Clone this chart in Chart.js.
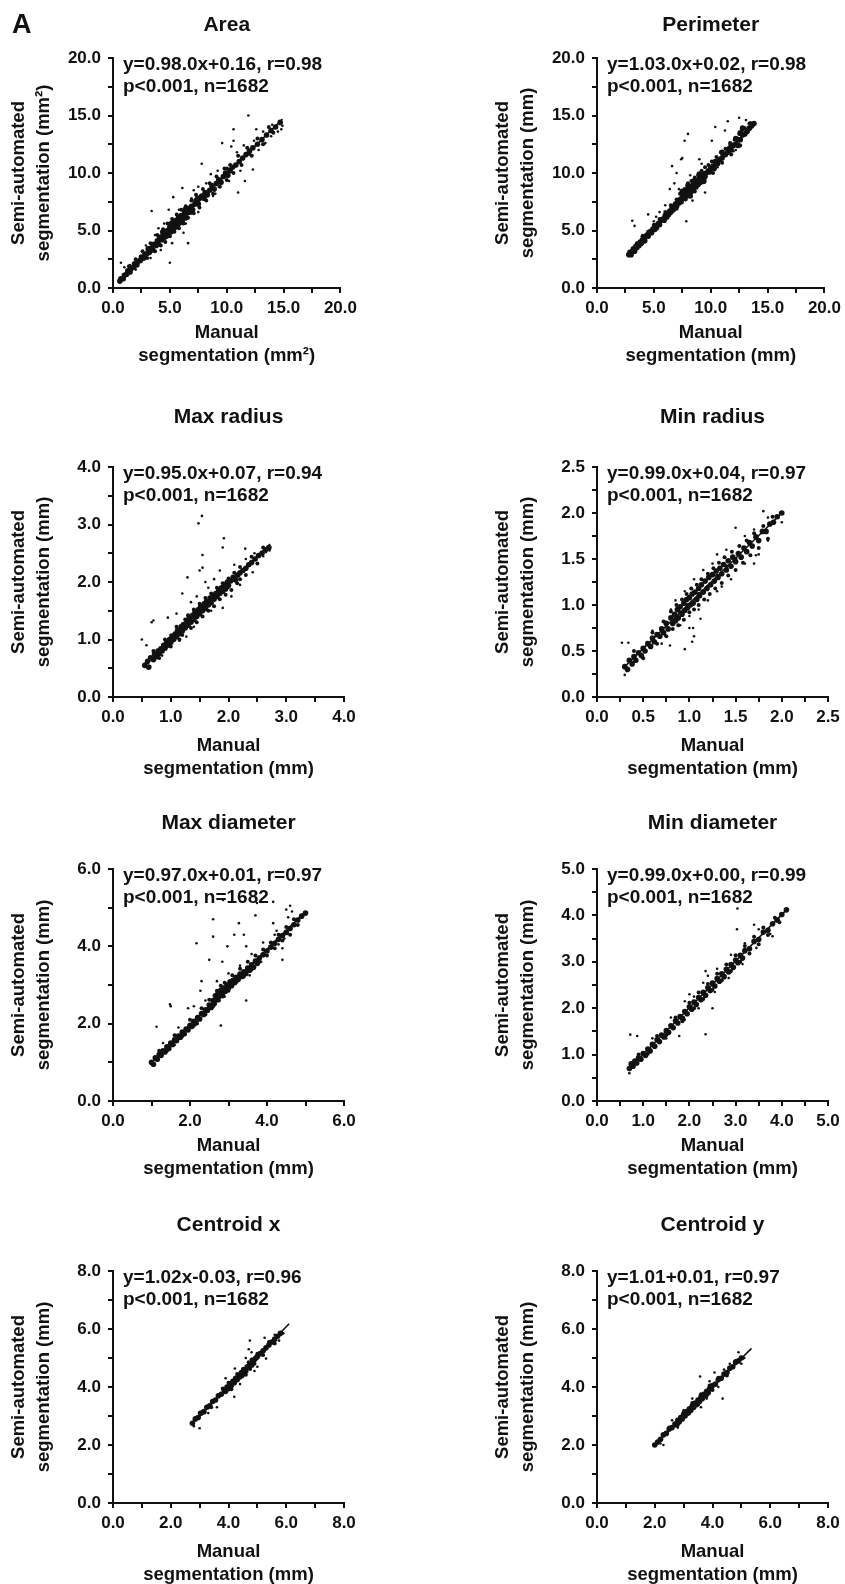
<!DOCTYPE html>
<html>
<head>
<meta charset="utf-8">
<script src="https://cdn.jsdelivr.net/npm/chart.js@4.4.1/dist/chart.umd.min.js"></script>
<style>
  body { margin: 0; background: #fff; width: 845px; height: 1584px; position: relative; overflow: hidden; }
  canvas { position: absolute; }
</style>
</head>
<body>
<script>
// ---- text ----
const panelTitles = ['Area', 'Perimeter', 'Max radius', 'Min radius', 'Max diameter', 'Min diameter', 'Centroid x', 'Centroid y'];
const unitLabels = ['mm²', 'mm', 'mm', 'mm', 'mm', 'mm', 'mm', 'mm'];
const fitTexts = [
  'y=0.98.0x+0.16, r=0.98', 'y=1.03.0x+0.02, r=0.98',
  'y=0.95.0x+0.07, r=0.94', 'y=0.99.0x+0.04, r=0.97',
  'y=0.97.0x+0.01, r=0.97', 'y=0.99.0x+0.00, r=0.99',
  'y=1.02x-0.03, r=0.96', 'y=1.01+0.01, r=0.97'
];
const statText = 'p<0.001, n=1682';

// ---- axes (same range on x and y) ----
const axisMax = [20, 20, 4, 2.5, 6, 5, 8, 8];
const minorStep = [2.5, 2.5, 0.5, 0.25, 1, 0.5, 1, 1];
const labelStep = [5, 5, 1, 0.5, 2, 1, 2, 2];

// ---- data: [manual, semi-automated] ----
// fit line ends, dense core, spread around the core, loose outliers
const areaFit = [[0.6, 0.7], [14.9, 14.7]];
const areaBand = [[0.6,0.6],[0.7,0.8],[0.9,0.8],[1.0,1.1],[1.2,1.2],[1.3,1.5],[1.5,1.4],[1.6,1.7],[1.8,1.8],[1.9,2.1],[2.1,2.0],[2.2,2.3],[2.4,2.4],[2.5,2.7],[2.7,2.6],[2.8,2.9],[3.0,3.0],[3.1,3.4],[3.2,3.1],[3.4,3.5],[3.5,3.3],[3.6,3.8],[3.8,3.7],[3.9,4.1],[4.0,3.8],[4.1,4.4],[4.3,4.2],[4.4,4.7],[4.5,4.4],[4.6,4.9],[4.7,4.5],[4.8,5.0],[4.9,4.7],[5.0,5.3],[5.1,4.9],[5.2,5.5],[5.3,5.1],[5.4,5.7],[5.5,5.3],[5.6,5.9],[5.7,5.5],[5.8,6.1],[5.9,5.7],[6.0,6.3],[6.1,5.9],[6.2,6.2],[6.3,6.6],[6.4,6.1],[6.5,6.5],[6.6,6.9],[6.8,6.6],[6.9,7.1],[7.0,6.8],[7.2,7.3],[7.3,7.6],[7.5,7.3],[7.6,7.8],[7.8,8.0],[8.0,7.8],[8.1,8.3],[8.3,8.1],[8.5,8.5],[8.7,8.9],[8.9,8.6],[9.1,9.1],[9.3,9.4],[9.5,9.2],[9.7,9.7],[9.9,10.0],[10.1,9.8],[10.3,10.2],[10.5,10.5],[10.8,10.7],[11.1,11.0],[11.4,11.3],[11.7,11.6],[12.0,11.9],[12.3,12.2],[12.7,12.5],[13.1,12.9],[13.5,13.3],[13.9,13.7],[14.3,14.0],[14.7,14.4]];
const areaSpread = [[1.4,1.9],[2.0,2.5],[2.6,3.2],[3.0,2.6],[3.3,3.9],[3.7,3.2],[3.9,4.6],[4.2,3.7],[4.4,5.1],[4.6,4.0],[4.8,5.6],[5.0,4.5],[5.2,6.0],[5.4,4.9],[5.6,6.4],[5.8,5.2],[6.0,6.8],[6.2,5.6],[6.4,7.1],[6.6,6.1],[6.9,7.6],[7.1,6.5],[7.3,8.1],[7.6,7.0],[7.9,8.6],[8.2,7.6],[8.5,9.1],[8.8,8.2],[9.1,9.7],[9.4,8.8],[9.8,10.4],[10.0,9.4],[10.3,10.7],[10.6,10.0],[11.0,11.5],[11.3,10.7],[11.8,12.2],[12.2,11.5],[12.7,13.0],[13.2,12.5],[13.7,14.0],[14.1,13.5],[4.3,4.9],[5.1,5.7],[5.7,6.2],[6.3,6.9],[7.4,7.9],[10.0,10.4],[10.2,10.3]];
const areaLoose = [[0.7,2.2],[1.0,1.8],[1.5,2.0],[2.0,1.6],[3.3,2.6],[3.4,6.7],[4.0,5.2],[4.2,3.3],[4.9,6.8],[5.0,2.2],[5.2,3.9],[5.3,7.9],[6.1,8.7],[6.6,3.9],[6.2,4.8],[7.1,8.5],[7.5,8.8],[7.5,6.6],[7.8,10.8],[8.6,9.9],[9.0,8.2],[9.3,8.8],[9.6,12.6],[10.4,12.3],[10.6,12.8],[10.6,13.8],[11.0,8.3],[11.6,9.3],[11.2,10.2],[11.9,15.0],[12.0,11.6],[12.1,12.0],[12.3,10.3],[12.4,12.8],[12.6,13.8],[13.2,13.6],[13.4,12.6],[13.9,13.2],[14.0,14.2],[14.8,13.8],[14.9,14.1],[14.5,13.6],[12.8,12.0],[11.5,12.4],[10.9,11.8],[9.2,10.2],[8.2,9.1],[6.9,7.8],[5.8,6.8],[4.5,5.6],[3.7,4.6],[2.9,3.7],[6.4,5.6],[8.8,8.0],[10.2,9.3]];

const perimFit = [[2.8, 2.9], [13.8, 14.3]];
const perimBand = [[2.8,2.9],[2.9,3.1],[3.0,2.9],[3.1,3.2],[3.2,3.4],[3.3,3.2],[3.4,3.6],[3.5,3.5],[3.6,3.8],[3.7,3.7],[3.8,4.0],[3.9,3.9],[4.0,4.2],[4.1,4.3],[4.2,4.1],[4.3,4.5],[4.4,4.6],[4.5,4.5],[4.6,4.8],[4.7,4.9],[4.8,4.8],[4.9,5.1],[5.0,5.2],[5.1,5.1],[5.2,5.4],[5.4,5.6],[5.5,5.5],[5.6,5.9],[5.8,6.0],[5.9,5.9],[6.0,6.3],[6.1,6.2],[6.2,6.5],[6.3,6.4],[6.4,6.7],[6.5,6.6],[6.6,7.0],[6.7,6.8],[6.8,7.1],[6.9,7.3],[7.0,7.1],[7.1,7.5],[7.2,7.4],[7.3,7.7],[7.4,7.5],[7.5,7.9],[7.6,8.1],[7.7,7.8],[7.8,8.3],[7.9,8.0],[8.0,8.5],[8.1,8.2],[8.2,8.7],[8.3,8.4],[8.4,8.9],[8.5,8.6],[8.6,9.1],[8.7,8.8],[8.8,9.3],[8.9,9.0],[9.0,9.5],[9.1,9.2],[9.2,9.7],[9.3,9.5],[9.4,9.9],[9.5,9.7],[9.6,10.0],[9.8,10.2],[9.9,10.1],[10.0,10.4],[10.2,10.6],[10.3,10.4],[10.5,10.9],[10.6,10.8],[10.8,11.2],[11.0,11.3],[11.1,11.6],[11.3,11.6],[11.5,11.8],[11.6,12.1],[11.8,12.0],[12.0,12.4],[12.2,12.5],[12.4,12.9],[12.6,12.9],[12.8,13.3],[13.0,13.4],[13.2,13.6],[13.4,13.9],[13.6,14.1],[13.8,14.3],[7.5,8.4],[8.0,8.9],[8.5,9.3],[9.0,9.9],[8.2,8.0],[9.4,9.3],[10.4,11.0],[11.0,11.8],[11.8,12.4],[12.2,13.0],[12.6,13.5],[12.8,13.9],[12.4,12.4]];
const perimSpread = [[3.5,3.9],[4.0,4.5],[4.5,4.9],[5.0,5.5],[5.5,6.0],[6.0,6.6],[6.5,7.2],[7.0,7.7],[7.3,8.2],[7.7,8.6],[8.0,9.1],[8.3,9.3],[8.6,9.6],[8.9,9.8],[9.2,10.2],[9.5,10.5],[9.8,10.7],[10.1,11.0],[10.5,11.4],[10.9,11.8],[11.3,12.1],[11.7,12.6],[12.1,12.9],[12.5,13.4],[13.0,13.9],[13.4,14.3],[5.3,5.2],[6.2,6.1],[7.0,6.9],[7.8,7.7],[8.6,8.4],[9.4,9.2],[10.2,10.0],[11.0,10.9],[11.8,11.6],[12.6,12.4]];
const perimLoose = [[3.1,5.85],[3.3,5.4],[4.5,6.4],[4.0,4.6],[5.0,5.8],[5.5,6.6],[6.4,8.6],[6.6,10.6],[6.8,9.1],[7.0,10.0],[7.4,11.2],[7.5,11.3],[7.7,12.8],[8.0,13.4],[7.85,5.8],[8.4,7.6],[9.0,11.2],[9.5,8.3],[9.2,10.8],[10.1,12.8],[10.4,14.0],[11.25,13.7],[11.5,14.5],[12.5,14.8],[11.6,11.8],[12.0,11.9],[12.2,12.0],[13.1,14.6],[13.5,14.4],[9.8,10.0],[10.6,10.5],[8.8,8.7],[6.0,7.2],[7.2,8.6],[8.2,9.8],[5.2,6.2]];

const maxRadFit = [[0.55, 0.58], [2.72, 2.66]];
const maxRadBand = [[0.55,0.55],[0.6,0.62],[0.62,0.52],[0.65,0.68],[0.7,0.65],[0.72,0.75],[0.75,0.7],[0.78,0.8],[0.8,0.76],[0.83,0.84],[0.85,0.8],[0.88,0.9],[0.9,0.85],[0.93,0.95],[0.95,0.9],[0.98,1.0],[1.0,0.95],[1.02,1.06],[1.05,1.0],[1.08,1.1],[1.1,1.05],[1.12,1.16],[1.15,1.1],[1.18,1.22],[1.2,1.15],[1.22,1.26],[1.25,1.2],[1.28,1.32],[1.3,1.25],[1.32,1.38],[1.35,1.3],[1.38,1.42],[1.4,1.35],[1.42,1.48],[1.45,1.4],[1.48,1.52],[1.5,1.45],[1.52,1.58],[1.55,1.5],[1.58,1.62],[1.6,1.54],[1.62,1.66],[1.65,1.6],[1.68,1.72],[1.7,1.64],[1.73,1.76],[1.75,1.7],[1.78,1.8],[1.8,1.75],[1.83,1.86],[1.85,1.8],[1.88,1.9],[1.9,1.84],[1.93,1.95],[1.95,1.88],[1.98,2.0],[2.0,1.94],[2.04,2.02],[2.08,2.08],[2.12,2.04],[2.16,2.12],[2.2,2.16],[2.25,2.2],[2.3,2.24],[2.35,2.3],[2.4,2.34],[2.46,2.4],[2.52,2.46],[2.58,2.5],[2.64,2.56],[2.7,2.6]];
const maxRadSpread = [[0.7,0.8],[0.8,0.68],[0.9,1.0],[1.0,0.88],[1.1,1.22],[1.2,1.08],[1.3,1.42],[1.35,1.2],[1.4,1.52],[1.45,1.3],[1.5,1.62],[1.55,1.4],[1.6,1.72],[1.65,1.5],[1.7,1.8],[1.75,1.58],[1.8,1.9],[1.85,1.7],[1.9,1.98],[1.95,1.78],[2.0,2.06],[2.05,1.86],[2.1,2.16],[2.15,1.98],[2.2,2.26],[2.3,2.12],[2.4,2.44],[2.5,2.32],[2.6,2.6],[2.2,2.05],[1.25,1.35],[1.15,1.0]];
const maxRadLoose = [[1.54,3.15],[1.48,3.02],[1.92,2.76],[1.9,2.6],[1.55,2.47],[1.55,2.25],[1.5,2.2],[1.29,2.08],[1.6,2.0],[1.2,1.8],[0.67,1.3],[0.7,1.33],[0.5,1.0],[1.27,1.05],[2.29,2.58],[2.3,2.4],[2.42,2.17],[1.9,1.55],[2.71,2.55],[2.5,2.45],[2.0,1.9],[0.95,1.38],[0.58,0.9],[1.1,1.45],[1.35,1.65],[1.45,1.75],[1.65,1.9],[1.75,2.05],[1.85,2.2],[2.1,2.3],[2.2,1.95],[2.05,1.75],[1.7,1.5],[1.4,1.22],[1.15,0.98],[0.85,0.72],[2.45,2.5],[2.6,2.45],[2.65,2.52],[0.6,0.5]];

const minRadFit = [[0.3, 0.33], [2.0, 2.0]];
const minRadBand = [[0.3,0.33],[0.33,0.3],[0.35,0.4],[0.38,0.36],[0.4,0.44],[0.42,0.4],[0.45,0.48],[0.48,0.45],[0.5,0.53],[0.52,0.5],[0.55,0.58],[0.58,0.55],[0.6,0.64],[0.62,0.6],[0.65,0.68],[0.68,0.66],[0.7,0.74],[0.72,0.7],[0.75,0.8],[0.77,0.74],[0.8,0.86],[0.82,0.8],[0.84,0.9],[0.85,0.83],[0.87,0.95],[0.88,0.86],[0.9,0.98],[0.92,0.9],[0.94,1.02],[0.95,0.94],[0.97,1.06],[0.98,0.97],[1.0,1.08],[1.01,1.0],[1.03,1.12],[1.04,1.02],[1.06,1.14],[1.08,1.06],[1.1,1.18],[1.11,1.1],[1.13,1.22],[1.15,1.14],[1.17,1.26],[1.19,1.18],[1.21,1.3],[1.23,1.22],[1.25,1.33],[1.27,1.26],[1.29,1.37],[1.31,1.3],[1.33,1.4],[1.35,1.34],[1.37,1.44],[1.4,1.38],[1.42,1.48],[1.45,1.42],[1.47,1.52],[1.5,1.47],[1.53,1.56],[1.56,1.52],[1.59,1.62],[1.62,1.58],[1.65,1.68],[1.68,1.64],[1.72,1.74],[1.75,1.7],[1.79,1.8],[1.83,1.8],[1.87,1.88],[1.91,1.9],[1.95,1.96],[2.0,2.0]];
const minRadSpread = [[0.4,0.5],[0.5,0.42],[0.6,0.7],[0.65,0.58],[0.72,0.82],[0.75,0.66],[0.8,0.93],[0.82,0.74],[0.86,1.0],[0.88,0.78],[0.92,1.06],[0.94,0.84],[0.97,1.12],[1.0,0.92],[1.02,1.18],[1.05,0.95],[1.08,1.22],[1.1,1.0],[1.13,1.28],[1.16,1.06],[1.2,1.34],[1.22,1.12],[1.26,1.4],[1.28,1.18],[1.32,1.46],[1.35,1.24],[1.38,1.52],[1.42,1.32],[1.46,1.58],[1.5,1.38],[1.54,1.64],[1.58,1.46],[1.62,1.7],[1.66,1.54],[1.7,1.78],[1.75,1.62],[1.8,1.86],[1.85,1.72],[1.9,1.96],[0.98,1.0],[1.1,1.12],[1.2,1.2],[1.3,1.32],[1.4,1.42],[1.5,1.5],[0.9,0.92]];
const minRadLoose = [[0.27,0.59],[0.34,0.59],[0.3,0.24],[0.74,0.67],[0.79,0.56],[0.95,0.52],[1.0,0.75],[1.04,0.75],[1.03,0.6],[1.05,0.66],[1.5,1.84],[1.7,1.45],[1.72,1.54],[1.91,1.9],[2.0,1.9],[1.98,2.0],[1.8,2.02],[1.85,1.95],[0.85,1.05],[0.95,1.15],[1.05,1.28],[1.15,1.38],[1.25,1.45],[1.3,1.55],[1.4,1.6],[1.6,1.75],[1.7,1.82],[0.9,0.78],[1.0,0.88],[1.1,0.95],[1.2,1.05],[1.3,1.15],[1.45,1.28],[1.6,1.45],[1.75,1.55],[1.85,1.7],[0.6,0.72],[0.7,0.58],[1.12,0.85],[1.35,1.2],[0.8,0.95]];

const maxDiaFit = [[1.0, 1.0], [5.0, 4.9]];
const maxDiaBand = [[1.0,1.0],[1.05,0.95],[1.1,1.12],[1.15,1.08],[1.2,1.2],[1.25,1.18],[1.3,1.3],[1.35,1.27],[1.4,1.4],[1.45,1.36],[1.5,1.5],[1.55,1.46],[1.6,1.58],[1.65,1.56],[1.7,1.68],[1.75,1.65],[1.8,1.78],[1.85,1.74],[1.9,1.86],[1.95,1.84],[2.0,1.96],[2.05,1.93],[2.1,2.06],[2.15,2.02],[2.2,2.16],[2.25,2.12],[2.3,2.26],[2.35,2.24],[2.4,2.36],[2.45,2.34],[2.5,2.48],[2.55,2.42],[2.6,2.6],[2.63,2.52],[2.66,2.72],[2.7,2.62],[2.73,2.8],[2.76,2.7],[2.8,2.86],[2.84,2.76],[2.88,2.92],[2.92,2.84],[2.96,3.0],[3.0,2.92],[3.04,3.08],[3.08,2.98],[3.12,3.12],[3.16,3.06],[3.2,3.2],[3.25,3.14],[3.3,3.28],[3.35,3.22],[3.4,3.34],[3.45,3.3],[3.5,3.44],[3.55,3.38],[3.6,3.52],[3.65,3.46],[3.7,3.62],[3.75,3.56],[3.8,3.7],[3.9,3.78],[4.0,3.88],[4.1,3.98],[4.2,4.08],[4.3,4.18],[4.4,4.28],[4.5,4.36],[4.6,4.46],[4.7,4.56],[4.8,4.68],[4.9,4.78],[5.0,4.86]];
const maxDiaSpread = [[1.2,1.3],[1.4,1.3],[1.6,1.7],[1.8,1.68],[2.0,2.1],[2.1,1.95],[2.3,2.4],[2.4,2.24],[2.5,2.62],[2.6,2.45],[2.7,2.85],[2.75,2.6],[2.8,2.98],[2.85,2.7],[2.9,3.06],[3.0,2.85],[3.1,3.25],[3.2,3.08],[3.3,3.42],[3.4,3.22],[3.5,3.6],[3.6,3.4],[3.7,3.76],[3.8,3.6],[3.9,3.92],[4.0,3.76],[4.1,4.1],[4.2,3.95],[4.3,4.3],[4.4,4.15],[4.5,4.5],[4.6,4.3],[4.7,4.7],[4.8,4.55]];
const maxDiaLoose = [[1.13,1.92],[1.48,2.5],[1.5,2.45],[2.17,4.08],[2.6,4.7],[2.6,4.25],[2.5,3.65],[2.84,3.6],[2.97,4.0],[3.15,4.3],[3.4,4.3],[3.27,4.6],[3.7,4.8],[3.74,5.12],[4.16,5.15],[2.86,5.2],[3.46,4.0],[4.16,4.6],[4.5,4.95],[4.6,5.05],[4.4,3.95],[4.4,3.65],[3.46,2.6],[2.8,1.95],[2.3,3.1],[2.27,2.85],[2.1,2.45],[1.95,2.4],[1.3,1.5],[1.7,1.9],[2.4,2.6],[2.7,3.1],[3.0,3.3],[3.3,3.5],[3.6,3.8],[3.9,4.1],[4.2,4.3],[4.3,4.05],[4.45,4.2],[4.55,4.75],[4.65,4.9],[4.25,4.4],[3.85,3.6],[3.55,3.25],[2.9,2.7],[2.2,2.0],[1.6,1.45]];

const minDiaFit = [[0.7, 0.7], [4.1, 4.12]];
const minDiaBand = [[0.7,0.7],[0.74,0.8],[0.78,0.75],[0.82,0.86],[0.86,0.82],[0.9,0.93],[0.95,0.9],[1.0,1.02],[1.05,0.98],[1.1,1.12],[1.15,1.08],[1.2,1.22],[1.25,1.18],[1.3,1.32],[1.35,1.28],[1.4,1.42],[1.45,1.38],[1.5,1.52],[1.55,1.48],[1.6,1.62],[1.65,1.58],[1.7,1.73],[1.75,1.68],[1.8,1.82],[1.85,1.78],[1.9,1.93],[1.95,1.88],[2.0,2.03],[2.05,1.98],[2.1,2.13],[2.15,2.08],[2.2,2.23],[2.25,2.18],[2.3,2.34],[2.35,2.28],[2.4,2.44],[2.45,2.38],[2.5,2.54],[2.55,2.48],[2.6,2.64],[2.65,2.58],[2.7,2.74],[2.75,2.68],[2.8,2.84],[2.85,2.78],[2.9,2.94],[2.95,2.88],[3.0,3.04],[3.05,2.98],[3.1,3.14],[3.15,3.08],[3.2,3.24],[3.3,3.28],[3.4,3.44],[3.5,3.48],[3.6,3.64],[3.7,3.68],[3.8,3.82],[3.9,3.9],[4.0,4.02],[4.1,4.12]];
const minDiaSpread = [[0.9,1.0],[1.1,1.02],[1.3,1.4],[1.5,1.42],[1.7,1.8],[1.85,1.72],[2.0,2.12],[2.1,2.0],[2.2,2.34],[2.3,2.2],[2.4,2.52],[2.5,2.4],[2.6,2.74],[2.7,2.6],[2.8,2.94],[2.9,2.8],[3.0,3.14],[3.1,3.0],[3.2,3.34],[3.3,3.18],[3.4,3.54],[3.5,3.38],[3.6,3.74],[3.7,3.58],[3.85,3.95],[3.95,3.85]];
const minDiaLoose = [[0.72,1.43],[0.87,1.4],[2.35,1.44],[1.78,1.4],[2.5,2.0],[2.35,2.8],[3.03,3.7],[3.04,4.15],[3.4,3.8],[3.8,3.55],[0.7,0.6],[1.2,1.35],[1.6,1.8],[1.9,2.15],[2.1,2.25],[2.3,2.55],[2.6,2.85],[2.9,3.15],[3.2,3.4],[3.5,3.7],[1.5,1.35],[1.9,1.75],[2.2,2.0],[2.55,2.35],[2.85,2.65],[3.15,2.95],[3.45,3.3],[3.75,3.6],[2.0,2.3],[2.4,2.7]];

const centXFit = [[2.75, 2.75], [6.1, 6.18]];
const centXBand = [[2.75,2.75],[2.85,2.9],[2.95,2.95],[3.05,3.1],[3.15,3.15],[3.25,3.3],[3.35,3.35],[3.45,3.5],[3.55,3.55],[3.65,3.7],[3.75,3.75],[3.85,3.9],[3.9,3.85],[3.95,4.0],[4.0,3.95],[4.05,4.1],[4.1,4.05],[4.15,4.2],[4.2,4.15],[4.25,4.3],[4.3,4.25],[4.35,4.4],[4.4,4.35],[4.45,4.5],[4.5,4.45],[4.55,4.6],[4.6,4.55],[4.65,4.7],[4.7,4.7],[4.75,4.8],[4.8,4.75],[4.85,4.9],[4.9,4.95],[4.95,5.0],[5.0,5.05],[5.1,5.15],[5.2,5.25],[5.3,5.35],[5.4,5.45],[5.5,5.55],[5.6,5.65],[5.7,5.75],[5.8,5.85]];
const centXSpread = [[3.0,3.1],[3.4,3.3],[3.8,3.95],[4.0,4.15],[4.1,3.92],[4.3,4.45],[4.5,4.62],[4.6,4.42],[4.7,4.85],[4.75,4.62],[4.8,4.95],[4.9,4.8],[5.0,5.15],[5.2,5.1],[5.4,5.55],[5.6,5.5]];
const centXLoose = [[4.74,5.6],[5.25,5.7],[4.7,5.3],[3.0,2.58],[4.22,4.64],[5.3,4.98],[4.2,3.66],[4.5,4.35],[4.9,4.55],[2.8,2.65],[3.6,3.3],[3.9,4.3],[4.6,5.0],[5.0,4.7],[5.6,5.8],[5.9,5.85],[5.75,5.6],[4.8,5.2],[4.4,4.1],[3.3,3.1]];

const centYFit = [[2.0, 2.0], [5.35, 5.33]];
const centYBand = [[2.0,2.0],[2.1,2.1],[2.2,2.2],[2.3,2.35],[2.4,2.4],[2.5,2.55],[2.6,2.6],[2.7,2.72],[2.75,2.7],[2.8,2.85],[2.85,2.8],[2.9,2.95],[2.95,2.9],[3.0,3.05],[3.05,3.0],[3.1,3.15],[3.15,3.1],[3.2,3.25],[3.25,3.2],[3.3,3.35],[3.35,3.3],[3.4,3.45],[3.45,3.4],[3.5,3.55],[3.55,3.5],[3.6,3.65],[3.65,3.6],[3.7,3.75],[3.75,3.7],[3.8,3.85],[3.85,3.8],[3.9,3.95],[3.95,3.95],[4.0,4.05],[4.1,4.1],[4.2,4.25],[4.3,4.3],[4.4,4.45],[4.5,4.5],[4.6,4.65],[4.7,4.7],[4.8,4.85],[4.9,4.9],[5.0,5.0]];
const centYSpread = [[2.5,2.6],[2.8,2.7],[3.0,3.12],[3.2,3.1],[3.3,3.45],[3.5,3.4],[3.6,3.75],[3.8,3.7],[3.9,4.05],[4.0,3.9],[4.2,4.32],[4.5,4.4],[4.8,4.9]];
const centYLoose = [[3.57,4.36],[4.07,4.5],[3.0,3.2],[4.35,3.6],[2.6,2.85],[2.8,2.6],[3.3,3.6],[3.6,3.3],[3.9,4.2],[4.2,4.0],[4.6,4.8],[4.9,5.2],[5.0,4.8],[5.1,5.0],[2.2,2.05],[2.3,2.0],[3.8,3.6],[4.4,4.6]];

const fits = [areaFit, perimFit, maxRadFit, minRadFit, maxDiaFit, minDiaFit, centXFit, centYFit];
const bands = [areaBand, perimBand, maxRadBand, minRadBand, maxDiaBand, minDiaBand, centXBand, centYBand];
const spreads = [areaSpread, perimSpread, maxRadSpread, minRadSpread, maxDiaSpread, minDiaSpread, centXSpread, centYSpread];
const looses = [areaLoose, perimLoose, maxRadLoose, minRadLoose, maxDiaLoose, minDiaLoose, centXLoose, centYLoose];

// ---- page layout (pixels) ----
const PLOT_W = 231;
const Y_AXIS_W = 110;
const RIGHT_PAD = 18;
const colLeft = [113, 597];
const rowBoxes = [
  { title: 25,   top: 58,   bottom: 288,  seg: 355 },
  { title: 417,  top: 467,  bottom: 697,  seg: 768 },
  { title: 823,  top: 869,  bottom: 1101, seg: 1168 },
  { title: 1225, top: 1271, bottom: 1503, seg: 1574 }
];

const FONT = "'Liberation Sans', Arial, sans-serif";
const INK = '#111';
Chart.defaults.font.family = FONT;
Chart.defaults.color = INK;

const fitLabel = {
  id: 'fitLabel',
  afterDraw(chart, args, opts) {
    const { ctx, chartArea } = chart;
    ctx.save();
    ctx.fillStyle = INK;
    ctx.font = 'bold 19px ' + FONT;
    ctx.textBaseline = 'middle';
    ctx.fillText(opts.eq, chartArea.left + 10, chartArea.top + 7);
    ctx.fillText(statText, chartArea.left + 10, chartArea.top + 29);
    if (opts.letter) {
      ctx.font = 'bold 27px ' + FONT;
      ctx.textBaseline = 'alphabetic';
      ctx.fillText(opts.letter, 9, 33);
    }
    ctx.restore();
  }
};

function axis(i, title, isX, xAxisH) {
  return {
    type: 'linear',
    min: 0,
    max: axisMax[i],
    afterFit: s => { if (isX) s.height = xAxisH; else s.width = Y_AXIS_W; },
    border: { display: true, color: INK, width: 2 },
    grid: { display: true, drawOnChartArea: false, drawTicks: true, tickLength: 5, color: INK, lineWidth: 2 },
    ticks: {
      stepSize: minorStep[i],
      autoSkip: false,
      maxRotation: 0,
      padding: isX ? 5 : 7,
      color: INK,
      font: { family: FONT, weight: 'bold', size: 17 },
      callback: v => {
        const k = v / labelStep[i];
        return Math.abs(k - Math.round(k)) < 1e-6 ? v.toFixed(1) : '';
      }
    },
    title: {
      display: true,
      text: title,
      color: INK,
      font: { family: FONT, weight: 'bold', size: 18.5, lineHeight: isX ? '23px' : '25px' },
      padding: isX ? { top: 0, bottom: 2 } : { top: 3, bottom: 0 }
    }
  };
}

bands.forEach((band, i) => {
  const col = i % 2;
  const r = rowBoxes[Math.floor(i / 2)];
  const left = colLeft[col] - Y_AXIS_W;
  const top = r.title - 25;
  const xAxisH = r.seg - r.bottom + 14;
  const canvas = document.createElement('canvas');
  canvas.width = Y_AXIS_W + PLOT_W + RIGHT_PAD;
  canvas.height = r.bottom - top + xAxisH;
  canvas.style.left = left + 'px';
  canvas.style.top = top + 'px';
  document.body.appendChild(canvas);

  const unit = unitLabels[i];
  new Chart(canvas, {
    type: 'scatter',
    data: {
      datasets: [
        { data: fits[i], showLine: true, borderColor: INK, borderWidth: 1.6, pointRadius: 0 },
        { data: band, pointRadius: 2.8, backgroundColor: INK, borderWidth: 0 },
        { data: spreads[i], pointRadius: 2.0, backgroundColor: INK, borderWidth: 0 },
        { data: looses[i], pointRadius: 1.3, backgroundColor: INK, borderWidth: 0 }
      ]
    },
    options: {
      responsive: false,
      animation: false,
      devicePixelRatio: 1,
      layout: { padding: { left: 0, right: RIGHT_PAD, top: 0, bottom: 0 } },
      plugins: {
        legend: { display: false },
        tooltip: { enabled: false },
        title: {
          display: true,
          text: panelTitles[i],
          fullSize: false,
          color: INK,
          font: { family: FONT, weight: 'bold', size: 21, lineHeight: '24px' },
          padding: { top: 13, bottom: r.top - r.title - 12 }
        },
        fitLabel: { eq: fitTexts[i], letter: i === 0 ? 'A' : null }
      },
      scales: {
        x: axis(i, ['Manual', 'segmentation (' + unit + ')'], true, xAxisH),
        y: axis(i, ['Semi-automated', 'segmentation (' + unit + ')'], false, xAxisH)
      }
    },
    plugins: [fitLabel]
  });
});
</script>
</body>
</html>
